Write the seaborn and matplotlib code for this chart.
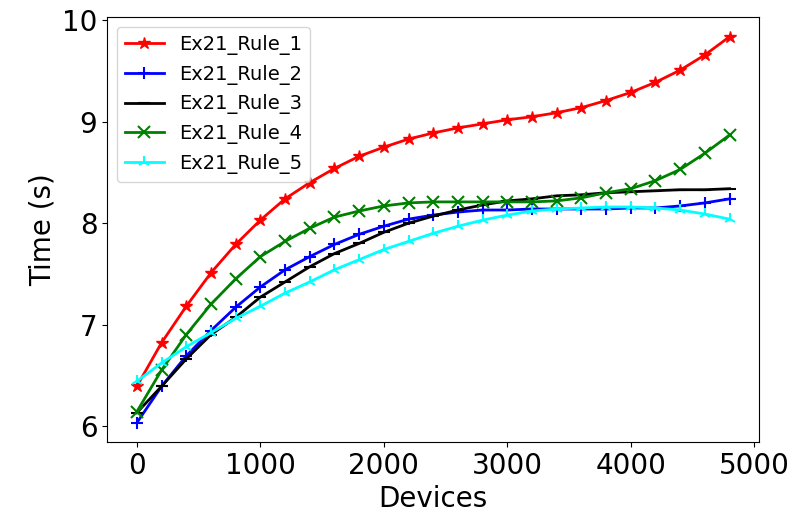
import matplotlib
matplotlib.use("Agg")
import matplotlib.pyplot as plt
import seaborn as sns

devices = [0, 200, 400, 600, 800, 1000, 1200, 1400, 1600, 1800, 2000, 2200, 2400,
           2600, 2800, 3000, 3200, 3400, 3600, 3800, 4000, 4200, 4400, 4600, 4800]
rule1 = [6.39, 6.82, 7.18, 7.51, 7.79, 8.03, 8.24, 8.40, 8.54, 8.66, 8.75, 8.83, 8.89,
         8.94, 8.98, 9.02, 9.05, 9.09, 9.14, 9.21, 9.29, 9.39, 9.51, 9.66, 9.84]
rule2 = [6.03, 6.39, 6.69, 6.94, 7.17, 7.37, 7.54, 7.67, 7.79, 7.89, 7.97, 8.04, 8.08,
         8.11, 8.13, 8.13, 8.14, 8.14, 8.14, 8.14, 8.15, 8.15, 8.17, 8.20, 8.24]
rule3 = [6.13, 6.39, 6.66, 6.90, 7.07, 7.27, 7.42, 7.57, 7.70, 7.80, 7.91, 8.00, 8.07,
         8.13, 8.18, 8.22, 8.24, 8.27, 8.28, 8.30, 8.31, 8.32, 8.33, 8.33, 8.34]
rule4 = [6.14, 6.55, 6.90, 7.20, 7.45, 7.67, 7.82, 7.95, 8.06, 8.12, 8.17, 8.20, 8.21,
         8.21, 8.21, 8.21, 8.21, 8.22, 8.25, 8.30, 8.34, 8.42, 8.53, 8.69, 8.87]
rule5 = [6.44, 6.62, 6.78, 6.92, 7.06, 7.18, 7.31, 7.42, 7.54, 7.64, 7.74, 7.82, 7.90,
         7.97, 8.03, 8.08, 8.12, 8.14, 8.15, 8.16, 8.16, 8.15, 8.13, 8.09, 8.04]

labels = ["Ex21_Rule_1", "Ex21_Rule_2", "Ex21_Rule_3", "Ex21_Rule_4", "Ex21_Rule_5"]
series = [rule1, rule2, rule3, rule4, rule5]
colors = ["red", "blue", "black", "green", "cyan"]
markers = ["*", "+", "_", "x", "2"]

fig = plt.figure(figsize=(8, 5.27), dpi=100)
ax = fig.add_axes([0.134, 0.161, 0.815, 0.806])

for vals, lab, col, mk in zip(series, labels, colors, markers):
    sns.lineplot(x=devices, y=vals, color=col, marker=mk, label=lab, ax=ax,
                 linewidth=2, markersize=9, markeredgewidth=1.5 if mk != "*" else 1,
                 markeredgecolor=col)

ax.set_xlabel("Devices", fontsize=20)
ax.set_ylabel("Time (s)", fontsize=20)
ax.tick_params(axis="both", labelsize=20)
ax.set_xticks([0, 1000, 2000, 3000, 4000, 5000])
ax.set_yticks([6, 7, 8, 9, 10])
ax.legend(loc="upper left", fontsize=14)

fig.savefig("out.png", dpi=100)
